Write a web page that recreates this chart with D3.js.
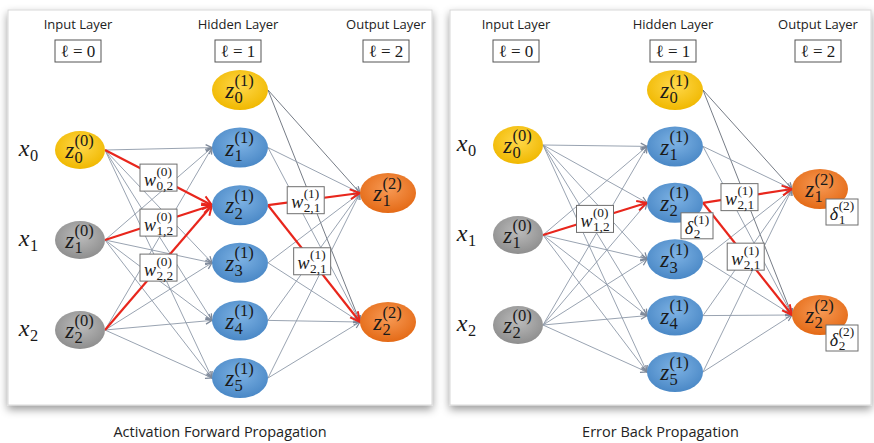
<!DOCTYPE html>
<html>
<head>
    <meta charset="utf-8">
    <title>Forward / back propagation</title>
    <style>
        body { margin: 0; background: #fff; }
        svg { display: block; }
    </style>
    <script src="https://cdnjs.cloudflare.com/ajax/libs/d3/7.8.5/d3.min.js"></script>
</head>
<body>
    <script>
        const width = 874
        const height = 443

        // ---- data ----
        const layerTitles = ["Input Layer", "Hidden Layer", "Output Layer"]
        const layerTags = ["\u2113 = 0", "\u2113 = 1", "\u2113 = 2"]
        const inputNodes = [0, 1, 2]
        const hiddenNodes = [0, 1, 2, 3, 4, 5]
        const outputNodes = [1, 2]
        const inputColors = ["gold", "grey", "grey"]
        const hiddenColors = ["gold", "blue", "blue", "blue", "blue", "blue"]
        const outputColors = ["orange", "orange"]
        const inputNames = ["x", "x", "x"]
        const panelTitles = ["Activation Forward Propagation", "Error Back Propagation"]

        // highlighted edges: [layer, from, to]
        const forwardRed = [[0, 0, 2], [0, 1, 2], [0, 2, 2], [1, 2, 1], [1, 2, 2]]
        const backRed = [[0, 1, 2], [1, 2, 1], [1, 2, 2]]
        // weight labels: [layer, from, to, sup, sub]
        const forwardWeights = [[0, 0, 2, "(0)", "0,2"], [0, 1, 2, "(0)", "1,2"], [0, 2, 2, "(0)", "2,2"],
                                [1, 2, 1, "(1)", "2,1"], [1, 2, 2, "(1)", "2,1"]]
        const backWeights = [[0, 1, 2, "(0)", "1,2"], [1, 2, 1, "(1)", "2,1"], [1, 2, 2, "(1)", "2,1"]]
        // delta labels: [layer, node, sup, sub]
        const backDeltas = [[1, 2, "(1)", "2"], [2, 1, "(2)", "1"], [2, 2, "(2)", "2"]]

        // ---- layout ----
        const panels = [
            { box: [8, 10, 424, 395], layerX: [80, 240, 388], yr: [[150, 330], [90, 378], [193, 322]],
              red: forwardRed, weights: forwardWeights, deltas: [] },
            { box: [450, 10, 421, 395], layerX: [518, 675, 820], yr: [[145, 325], [90, 372], [189, 315]],
              red: backRed, weights: backWeights, deltas: backDeltas }
        ]
        const layerNodes = [inputNodes, hiddenNodes, outputNodes]
        const layerColors = [inputColors, hiddenColors, outputColors]
        const rx = [25, 28, 28], ry = [19, 20, 20]
        const serif = "'Liberation Serif', 'DejaVu Serif', serif"
        const sans = "'Open Sans', 'Lato', sans-serif"
        const palette = {
            gold: ["#ffd84a", "#f0b800"], grey: ["#bcbcbc", "#8e8e8e"],
            blue: ["#7db2e4", "#4a88c6"], orange: ["#f79a55", "#e46a16"]
        }
        const labelT = (layer, to) => layer === 0 ? 0.5 : (to === 1 ? 0.41 : 0.48)

        const svg = d3.select("body").append("svg")
            .attr("width", width)
            .attr("height", height)
        const defs = svg.append("defs")

        defs.append("filter").attr("id", "shadow")
            .attr("x", "-10%").attr("y", "-10%").attr("width", "120%").attr("height", "125%")
            .append("feDropShadow")
                .attr("dx", 0).attr("dy", 4).attr("stdDeviation", 4.5)
                .attr("flood-color", "#000").attr("flood-opacity", 0.4)

        Object.entries(palette).forEach(([name, c]) => {
            let g = defs.append("radialGradient").attr("id", "grad-" + name)
                .attr("cx", "50%").attr("cy", "40%").attr("r", "60%")
            g.append("stop").attr("offset", "0%").attr("stop-color", c[0])
            g.append("stop").attr("offset", "100%").attr("stop-color", c[1])
        })

        function marker(id, color, size) {
            defs.append("marker").attr("id", id)
                .attr("viewBox", "-8 -5 10 10")
                .attr("markerWidth", size).attr("markerHeight", size)
                .attr("markerUnits", "userSpaceOnUse")
                .attr("refX", 0).attr("refY", 0)
                .attr("orient", "auto")
                .append("path")
                    .attr("d", "M-7,-3.5 L0,0 L-7,3.5")
                    .attr("fill", "none")
                    .attr("stroke", color)
                    .attr("stroke-width", 1.4)
        }
        marker("arrow-grey", "#7d8899", 9)
        marker("arrow-red", "#e8261c", 14)

        // stacked sup/sub math label, centred on (x, y)
        function mathLabel(g, x, y, base, sup, sub, size, ratio) {
            let grp = g.append("g").attr("fill", "#1a1a1a")
            let b = grp.append("text")
                .attr("font-family", serif).attr("font-style", "italic")
                .attr("font-size", size).text(base)
            let bw = b.node().getComputedTextLength()
            grp.append("text").attr("x", bw + 0.5).attr("y", -size * 0.55)
                .attr("font-family", serif).attr("font-size", size * ratio).text(sup)
            grp.append("text").attr("x", bw + 0.5).attr("y", size * 0.22)
                .attr("font-family", serif).attr("font-size", size * ratio).text(sub)
            let bb = grp.node().getBBox()
            grp.attr("transform", `translate(${x - bb.x - bb.width / 2}, ${y - bb.y - bb.height / 2})`)
            return bb
        }

        function boxedLabel(g, x, y, base, sup, sub, w, h) {
            g.append("rect")
                .attr("x", x - w / 2).attr("y", y - h / 2)
                .attr("width", w).attr("height", h)
                .attr("fill", "#fff").attr("stroke", "#6f6f6f").attr("stroke-width", 1)
            mathLabel(g, x, y + 0.5, base, sup, sub, 18, 0.74)
        }

        panels.forEach((p, pi) => {
            let g = svg.append("g")
            g.append("rect")
                .attr("x", p.box[0]).attr("y", p.box[1])
                .attr("width", p.box[2]).attr("height", p.box[3])
                .attr("fill", "#fff").attr("stroke", "#d8d8d8")
                .attr("filter", "url(#shadow)")

            let x = d3.scaleOrdinal().domain([0, 1, 2]).range(p.layerX)
            let y = layerNodes.map((nodes, l) => d3.scalePoint().domain(nodes).range(p.yr[l]))

            // headers
            g.selectAll(".title")
                .data(layerTitles)
                .enter()
                .append("text")
                    .attr("x", (d, i) => x(i) - 2)
                    .attr("y", 29)
                    .attr("text-anchor", "middle")
                    .attr("font-family", sans)
                    .attr("font-size", 13)
                    .attr("fill", "#222")
                    .text(d => d)
            layerTags.forEach((t, i) => {
                g.append("rect")
                    .attr("x", x(i) - 2 - 23).attr("y", 40)
                    .attr("width", 46).attr("height", 22)
                    .attr("fill", "#fff").attr("stroke", "#555").attr("stroke-width", 1)
                g.append("text")
                    .attr("x", x(i) - 2).attr("y", 57)
                    .attr("text-anchor", "middle")
                    .attr("font-family", serif)
                    .attr("font-size", 17)
                    .attr("fill", "#1a1a1a")
                    .text(t)
            })

            // edges
            let edges = []
            inputNodes.forEach(a => hiddenNodes.slice(1).forEach(b => edges.push([0, a, b])))
            hiddenNodes.forEach(a => outputNodes.forEach(b => edges.push([1, a, b])))
            let isRed = e => p.red.some(r => r[0] === e[0] && r[1] === e[1] && r[2] === e[2])
            let ends = e => {
                let l = e[0]
                return [x(l) + rx[l], y[l](e[1]), x(l + 1) - rx[l + 1], y[l + 1](e[2])]
            }

            let edgeLayer = g.append("g")
            edgeLayer.selectAll(".edge")
                .data(edges.filter(e => !isRed(e)))
                .enter()
                .append("line")
                    .attr("class", "edge")
                    .attr("x1", d => ends(d)[0]).attr("y1", d => ends(d)[1])
                    .attr("x2", d => ends(d)[2]).attr("y2", d => ends(d)[3])
                    .attr("stroke", d => d[0] === 1 && d[1] === 0 ? "#666d78" : "#8d98a8")
                    .attr("stroke-width", 0.9)
                    .attr("marker-end", "url(#arrow-grey)")
            edgeLayer.selectAll(".red")
                .data(edges.filter(isRed))
                .enter()
                .append("line")
                    .attr("class", "red")
                    .attr("x1", d => ends(d)[0]).attr("y1", d => ends(d)[1])
                    .attr("x2", d => ends(d)[2]).attr("y2", d => ends(d)[3])
                    .attr("stroke", "#e8261c")
                    .attr("stroke-width", 2.2)
                    .attr("marker-end", "url(#arrow-red)")

            // nodes
            layerNodes.forEach((nodes, l) => {
                nodes.forEach((n, i) => {
                    g.append("ellipse")
                        .attr("cx", x(l)).attr("cy", y[l](n))
                        .attr("rx", rx[l]).attr("ry", ry[l])
                        .attr("fill", `url(#grad-${layerColors[l][i]})`)
                    mathLabel(g, x(l) - 1, y[l](n) - 1, "z", `(${l})`, String(n), 23, 0.72)
                })
            })

            // input names
            inputNodes.forEach((n, i) => {
                mathLabel(g, x(0) - 52, y[0](n), inputNames[i], "", String(n), 24, 0.68)
            })

            // weight boxes
            p.weights.forEach(w => {
                let e = ends(w)
                let t = labelT(w[0], w[2])
                let cx = e[0] + (e[2] - e[0]) * t
                let cy = e[1] + (e[3] - e[1]) * t
                boxedLabel(g, cx, cy, "w", w[3], w[4], 37, 27)
            })

            // delta boxes
            p.deltas.forEach(d => {
                let cx = x(d[0]) + 22
                let cy = y[d[0]](d[1]) + 23
                boxedLabel(g, cx, cy, "\u03b4", d[2], d[3], 32, 26)
            })

            // caption
            svg.append("text")
                .attr("x", p.box[0] + p.box[2] / 2)
                .attr("y", 437)
                .attr("text-anchor", "middle")
                .attr("font-family", sans)
                .attr("font-size", 14.5)
                .attr("fill", "#222")
                .text(panelTitles[pi])
        })
    </script>
</body>
</html>
